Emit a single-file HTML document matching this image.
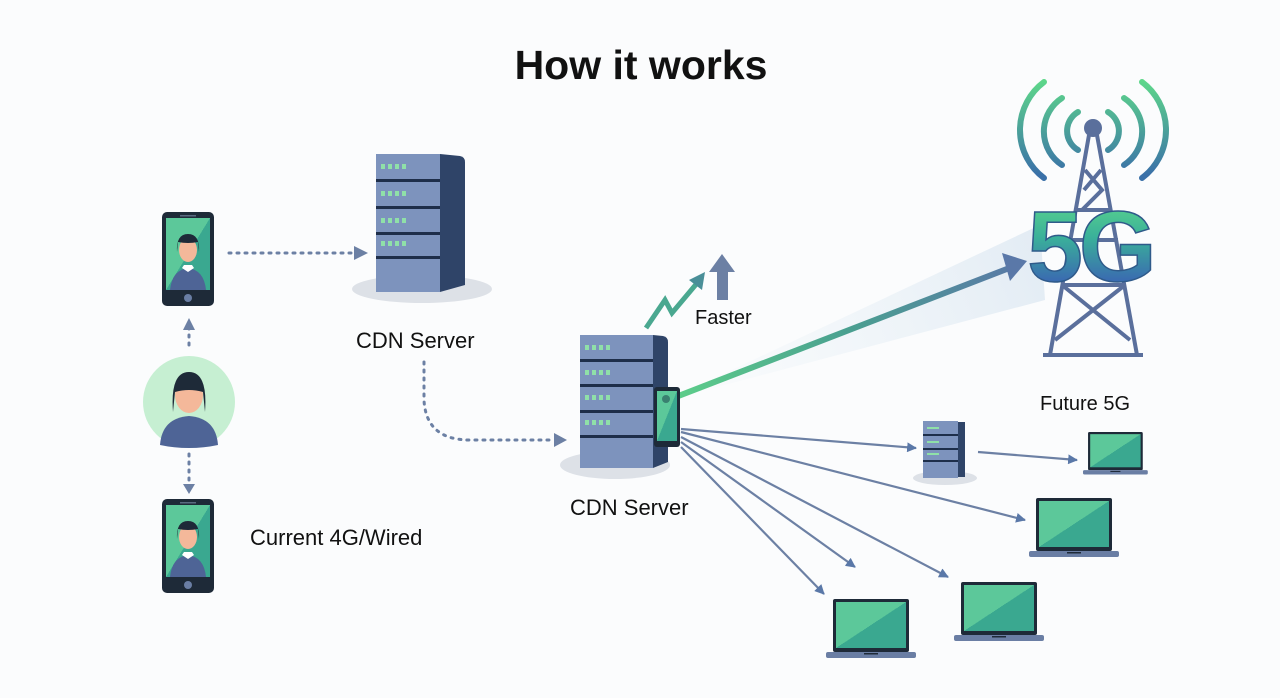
<!DOCTYPE html>
<html><head><meta charset="utf-8"><style>
html,body{margin:0;padding:0;background:#fbfcfd;}
svg{display:block;font-family:"Liberation Sans",sans-serif;}
</style></head><body>
<svg width="1280" height="698" viewBox="0 0 1280 698" xmlns="http://www.w3.org/2000/svg">
<defs>
<marker id="ar2" viewBox="0 0 10 10" refX="9" refY="5" markerWidth="4.5" markerHeight="4.5" orient="auto"><path d="M0,0L10,5L0,10z" fill="#5a78a8"/></marker>
<linearGradient id="beam" x1="668" y1="400" x2="1025" y2="262" gradientUnits="userSpaceOnUse"><stop offset="0" stop-color="#5ed08a"/><stop offset="0.5" stop-color="#4aa090"/><stop offset="1" stop-color="#5a78a8"/></linearGradient>
<linearGradient id="wedge" x1="668" y1="400" x2="1040" y2="250" gradientUnits="userSpaceOnUse"><stop offset="0" stop-color="#e6f0f6" stop-opacity="0"/><stop offset="1" stop-color="#dde8f2"/></linearGradient>
<linearGradient id="g5" x1="0" y1="195" x2="0" y2="280" gradientUnits="userSpaceOnUse"><stop offset="0" stop-color="#5ed88a"/><stop offset="0.5" stop-color="#3ab09a"/><stop offset="1" stop-color="#3a6cb0"/></linearGradient>
<linearGradient id="arc" x1="0" y1="80" x2="0" y2="175" gradientUnits="userSpaceOnUse"><stop offset="0" stop-color="#5ed88a"/><stop offset="1" stop-color="#3a70a8"/></linearGradient>
<linearGradient id="scr" x1="0" y1="0" x2="1" y2="1"><stop offset="0.5" stop-color="#5cc89a"/><stop offset="0.5" stop-color="#3aa890"/></linearGradient>
<g id="phone">
<rect x="0" y="0" width="52" height="94" rx="5" fill="#1e2a38"/>
<rect x="4" y="6" width="44" height="72" fill="url(#scr)"/>
<rect x="18" y="3" width="16" height="1.5" fill="#5a6a80"/>
<circle cx="26" cy="86" r="4" fill="#6a7ea4"/>
<path d="M8,78 Q10,58 26,56 Q42,58 44,78z" fill="#4e6496"/>
<path d="M20,56 L26,60 L32,56 L30,53 L22,53z" fill="#fff"/>
<ellipse cx="26" cy="38" rx="9" ry="12" fill="#f4b89a"/>
<path d="M15,40 Q14,22 26,22 Q38,22 37,40 L36,30 Q26,32 16,30z" fill="#1e2a38"/>
</g>
<g id="laptop">
<rect x="7" y="0" width="76" height="53" rx="2" fill="#1e2a38"/>
<rect x="10" y="3" width="70" height="46" fill="url(#scr)"/>
<rect x="0" y="53" width="90" height="6" rx="2" fill="#6a7ea4"/>
<rect x="38" y="54" width="14" height="1.5" fill="#1e2a38"/>
</g>
</defs>

<text x="641" y="79" font-size="41" font-weight="bold" text-anchor="middle" fill="#111">How it works</text>

<use href="#phone" x="162" y="212"/>
<use href="#phone" x="162" y="499"/>
<circle cx="189" cy="402" r="46" fill="#c6efd2"/>
<path d="M160,445 Q162,418 189,416 Q216,418 218,445 Q204,448 189,448 Q174,448 160,445z" fill="#4e6496"/>
<ellipse cx="189" cy="395" rx="14" ry="18" fill="#f4b89a"/>
<path d="M173,412 Q170,372 189,372 Q208,372 205,412 L203,392 Q189,388 175,392z" fill="#1e2a38"/>

<line x1="229" y1="253" x2="352" y2="253" stroke="#6c80a4" stroke-width="3" stroke-dasharray="2 6" stroke-linecap="round"/>
<path d="M354,246 L368,253 L354,260z" fill="#6c80a4"/>
<line x1="189" y1="345" x2="189" y2="326" stroke="#6c80a4" stroke-width="3" stroke-dasharray="2 6" stroke-linecap="round"/>
<path d="M183,330 L189,318 L195,330z" fill="#6c80a4"/>
<line x1="189" y1="454" x2="189" y2="484" stroke="#6c80a4" stroke-width="3" stroke-dasharray="2 6" stroke-linecap="round"/>
<path d="M183,484 L189,494 L195,484z" fill="#6c80a4"/>

<ellipse cx="422" cy="289" rx="70" ry="14" fill="#dde1e7"/>
<rect x="376" y="154" width="64" height="138" fill="#7d93bd"/>
<path d="M440,154 L460,156 Q465,157 465,162 L465,285 L440,292z" fill="#2f4468"/>
<g fill="#1e2e4a"><rect x="376" y="179" width="64" height="3"/><rect x="376" y="206" width="64" height="3"/><rect x="376" y="232" width="64" height="3"/><rect x="376" y="256" width="64" height="3"/></g>
<g fill="#8fe0a8">
<rect x="381" y="164" width="4" height="5"/><rect x="388" y="164" width="4" height="5"/><rect x="395" y="164" width="4" height="5"/><rect x="402" y="164" width="4" height="5"/>
<rect x="381" y="191" width="4" height="5"/><rect x="388" y="191" width="4" height="5"/><rect x="395" y="191" width="4" height="5"/><rect x="402" y="191" width="4" height="5"/>
<rect x="381" y="218" width="4" height="5"/><rect x="388" y="218" width="4" height="5"/><rect x="395" y="218" width="4" height="5"/><rect x="402" y="218" width="4" height="5"/>
<rect x="381" y="241" width="4" height="5"/><rect x="388" y="241" width="4" height="5"/><rect x="395" y="241" width="4" height="5"/><rect x="402" y="241" width="4" height="5"/>
</g>
<text x="356" y="348" font-size="22" fill="#111">CDN Server</text>
<text x="250" y="545" font-size="22" fill="#111">Current 4G/Wired</text>

<path d="M424,362 L424,400 Q426,440 470,440 L552,440" fill="none" stroke="#6c80a4" stroke-width="3" stroke-dasharray="2 6" stroke-linecap="round"/>
<path d="M554,433 L567,440 L554,447z" fill="#6c80a4"/>

<path d="M668,400 L1040,225 L1045,300z" fill="url(#wedge)" opacity="0.8"/>
<line x1="668" y1="400" x2="1012" y2="267" stroke="url(#beam)" stroke-width="6"/>
<path d="M1002,253 L1027,261 L1010,281z" fill="#5a78a8"/>

<ellipse cx="615" cy="465" rx="55" ry="14" fill="#dde1e7"/>
<rect x="580" y="335" width="73" height="133" fill="#7d93bd"/>
<path d="M653,335 L663,336 Q668,337 668,342 L668,462 L653,468z" fill="#2f4468"/>
<g fill="#1e2e4a"><rect x="580" y="359" width="73" height="3"/><rect x="580" y="384" width="73" height="3"/><rect x="580" y="410" width="73" height="3"/><rect x="580" y="435" width="73" height="3"/></g>
<g fill="#8fe0a8">
<rect x="585" y="345" width="4" height="5"/><rect x="592" y="345" width="4" height="5"/><rect x="599" y="345" width="4" height="5"/><rect x="606" y="345" width="4" height="5"/>
<rect x="585" y="370" width="4" height="5"/><rect x="592" y="370" width="4" height="5"/><rect x="599" y="370" width="4" height="5"/><rect x="606" y="370" width="4" height="5"/>
<rect x="585" y="395" width="4" height="5"/><rect x="592" y="395" width="4" height="5"/><rect x="599" y="395" width="4" height="5"/><rect x="606" y="395" width="4" height="5"/>
<rect x="585" y="420" width="4" height="5"/><rect x="592" y="420" width="4" height="5"/><rect x="599" y="420" width="4" height="5"/><rect x="606" y="420" width="4" height="5"/>
</g>
<rect x="654" y="387" width="26" height="60" rx="3" fill="#1e2a38"/>
<rect x="657" y="391" width="20" height="50" fill="url(#scr)"/>
<circle cx="666" cy="399" r="4" fill="#3a8070"/>
<text x="570" y="515" font-size="22" fill="#111">CDN Server</text>

<path d="M646,328 L665,300 L672,313 L698,282" fill="none" stroke="#4aa890" stroke-width="5" stroke-linejoin="miter"/>
<path d="M689,280 L705,272 L702,290z" fill="#4a8f98"/>
<rect x="717" y="270" width="11" height="30" fill="#6c80a4"/>
<path d="M709,272 L722,254 L735,272z" fill="#6c80a4"/>
<text x="695" y="324" font-size="20" fill="#111">Faster</text>

<g stroke="#5a6f9c" stroke-width="4" fill="none">
<path d="M1089,135 L1050,355 M1097,135 L1137,355 M1043,355 L1143,355"/>
<path d="M1085,170 L1102,190 L1082,210 M1101,170 L1084,190 M1075,210 L1112,210 M1062,285 L1125,285 M1062,285 L1130,340 M1125,285 L1055,340 M1070,240 L1118,240"/>
</g>
<circle cx="1093" cy="128" r="9" fill="#5a6f9c"/>
<g fill="none" stroke="url(#arc)" stroke-width="6" stroke-linecap="round">
<path d="M1078,112 A22,22 0 0 0 1078,150"/><path d="M1108,112 A22,22 0 0 1 1108,150"/>
<path d="M1062,98 A40,40 0 0 0 1062,165"/><path d="M1124,98 A40,40 0 0 1 1124,165"/>
<path d="M1044,82 A60,60 0 0 0 1044,178"/><path d="M1142,82 A60,60 0 0 1 1142,178"/>
</g>
<text x="1090" y="281" font-size="100" font-weight="bold" text-anchor="middle" fill="url(#g5)" stroke="#2f5a8a" stroke-width="1.5" letter-spacing="-4">5G</text>
<text x="1040" y="410" font-size="20" fill="#111">Future 5G</text>

<ellipse cx="945" cy="478" rx="32" ry="7" fill="#dde1e7"/>
<rect x="923" y="421" width="35" height="57" fill="#7d93bd"/>
<rect x="958" y="422" width="7" height="55" fill="#2f4468"/>
<g fill="#1e2e4a"><rect x="923" y="434" width="35" height="2"/><rect x="923" y="448" width="35" height="2"/><rect x="923" y="460" width="35" height="2"/></g>
<g fill="#8fe0a8"><rect x="927" y="427" width="12" height="2"/><rect x="927" y="441" width="12" height="2"/><rect x="927" y="453" width="12" height="2"/></g>

<g stroke="#6c80a4" stroke-width="2.2" fill="none" marker-end="url(#ar2)">
<line x1="681" y1="429" x2="916" y2="448"/>
<line x1="681" y1="432" x2="1025" y2="520"/>
<line x1="681" y1="437" x2="948" y2="577"/>
<line x1="681" y1="442" x2="855" y2="567"/>
<line x1="681" y1="447" x2="824" y2="594"/>
<line x1="978" y1="452" x2="1077" y2="460"/>
</g>

<use href="#laptop" transform="translate(1083 432) scale(0.72)"/>
<use href="#laptop" x="1029" y="498"/>
<use href="#laptop" x="954" y="582"/>
<use href="#laptop" x="826" y="599"/>
</svg>
</body></html>
